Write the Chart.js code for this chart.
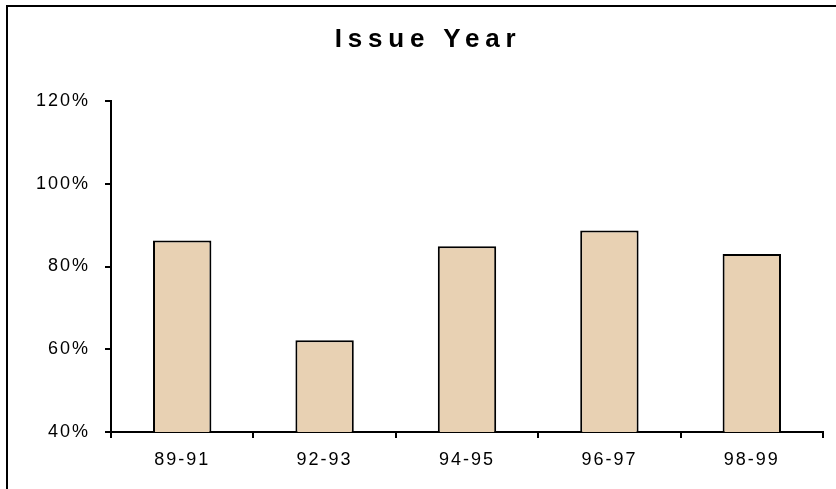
<!DOCTYPE html>
<html>
<head>
<meta charset="utf-8">
<script src="https://cdn.jsdelivr.net/npm/chart.js"></script>
<style>
  html, body { margin: 0; padding: 0; background: #fff; }
  #wrap { position: relative; width: 836px; height: 489px; }
  #frame {
    position: absolute; left: 6px; top: 5px; right: 0; bottom: 0;
    border-left: 2px solid #000; border-top: 2px solid #000;
    pointer-events: none;
  }
</style>
</head>
<body>
<div id="wrap">
  <canvas id="chart" width="836" height="489"></canvas>
  <div id="frame"></div>
</div>
<script>
// === données ===
const categories = ["89-91", "92-93", "94-95", "96-97", "98-99"];
const values = [86.3, 62.2, 84.9, 88.7, 83.0];
const yTicks = [40, 60, 80, 100, 120];
const chartTitle = "Issue Year";

// espacement des lettres des graduations (canvas letterSpacing)
const spacing = {
  id: "spacing",
  beforeLayout(chart) { chart.ctx.letterSpacing = "2px"; },
  beforeDraw(chart) { chart.ctx.letterSpacing = "2px"; }
};

// titre dessiné à la main pour avoir son propre espacement
const titlePlugin = {
  id: "titlePlugin",
  afterDraw(chart) {
    const ctx = chart.ctx;
    ctx.save();
    ctx.letterSpacing = "5.8px";
    ctx.font = "bold 26px Arial, 'Liberation Sans', sans-serif";
    ctx.fillStyle = "#000";
    ctx.textAlign = "center";
    ctx.textBaseline = "middle";
    ctx.fillText(chartTitle, 428, 40);
    ctx.restore();
  }
};

Chart.defaults.font.family = "Arial, 'Liberation Sans', sans-serif";
Chart.defaults.color = "#000";

new Chart(document.getElementById("chart"), {
  type: "bar",
  data: {
    labels: categories,
    datasets: [{
      data: values,
      backgroundColor: "#E8D1B3",
      borderColor: "#000",
      borderWidth: 2,
      borderSkipped: false,
      categoryPercentage: 1,
      barPercentage: 0.41
    }]
  },
  options: {
    responsive: false,
    animation: false,
    layout: { padding: { left: 0, right: 13, top: 101, bottom: 0 } },
    plugins: {
      legend: { display: false },
      tooltip: { enabled: false },
      title: { display: false }
    },
    scales: {
      x: {
        grid: {
          offset: true,
          drawOnChartArea: false,
          color: "#000",
          lineWidth: 2,
          tickLength: 6
        },
        border: { display: true, color: "#000", width: 2 },
        ticks: { font: { size: 18 }, padding: 11 },
        afterFit: (s) => { s.height = 57; }
      },
      y: {
        min: 40,
        max: 120,
        afterBuildTicks: (s) => { s.ticks = yTicks.map(v => ({ value: v })); },
        grid: {
          drawOnChartArea: false,
          color: "#000",
          lineWidth: 2,
          tickLength: 6
        },
        border: { display: true, color: "#000", width: 2 },
        ticks: {
          font: { size: 18 },
          padding: 15,
          callback: (v) => v + "%"
        },
        afterFit: (s) => { s.width = 111; }
      }
    }
  },
  plugins: [spacing, titlePlugin]
});
</script>
</body>
</html>
